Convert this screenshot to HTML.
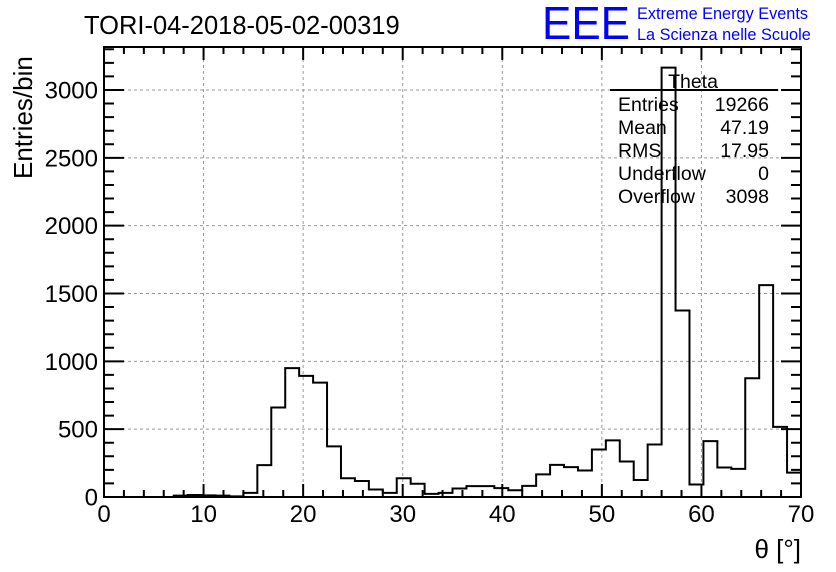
<!DOCTYPE html>
<html><head><meta charset="utf-8"><style>
body{margin:0;background:#fff;}
svg{display:block;font-family:"Liberation Sans",Arial,sans-serif;}
</style></head><body>
<svg id="c" width="836" height="572" xmlns="http://www.w3.org/2000/svg">
<rect width="836" height="572" fill="#fff"/>
<text x="84" y="34" font-size="25.5">TORI-04-2018-05-02-00319</text>
<text x="542" y="39" font-size="46" fill="#0000ff" textLength="88" lengthAdjust="spacingAndGlyphs">EEE</text>
<text x="637" y="19" font-size="16.3" fill="#0000ff">Extreme Energy Events</text>
<text x="637" y="40" font-size="16.3" fill="#0000ff">La Scienza nelle Scuole</text>
<g id="grid"></g>
<g id="ticks"></g>
<g id="labels"></g>
<path id="hist" fill="none" stroke="#000" stroke-width="2"/>
<rect x="104" y="47" width="697" height="450" fill="none" stroke="#000" stroke-width="2"/>
<g font-size="19.5">
<text x="693" y="88" text-anchor="middle">Theta</text>
<line x1="610" y1="90" x2="778" y2="90" stroke="#000" stroke-width="2"/>
<text x="618" y="111">Entries</text><text x="769" y="111" text-anchor="end">19266</text>
<text x="618" y="134">Mean</text><text x="769" y="134" text-anchor="end">47.19</text>
<text x="618" y="157">RMS</text><text x="769" y="157" text-anchor="end">17.95</text>
<text x="618" y="180">Underflow</text><text x="769" y="180" text-anchor="end">0</text>
<text x="618" y="203">Overflow</text><text x="769" y="203" text-anchor="end">3098</text>
</g>
<text x="801" y="558" font-size="26" text-anchor="end">θ [°]</text>
<text transform="translate(32,179) rotate(-90)" font-size="26">Entries/bin</text>
</svg>
<script>
const binWidth = 1.4;
const counts = [0,0,0,0,0,10,15,12,10,5,30,235,660,950,893,843,373,138,118,55,30,138,98,23,30,63,80,80,65,50,82,167,237,220,195,350,417,262,125,387,3165,1375,92,412,217,207,875,1562,517,180];
const xTicks = [0,10,20,30,40,50,60,70];
const yTicks = [0,500,1000,1500,2000,2500,3000];
const X0=104,X1=801,Y0=497,YT=47;
const sx=v=>X0+(v/70)*(X1-X0);
const sy=v=>Y0-v*0.13567;
const NS="http://www.w3.org/2000/svg";
function mk(tag,attrs,parent){const e=document.createElementNS(NS,tag);for(const k in attrs)e.setAttribute(k,attrs[k]);parent.appendChild(e);return e;}
const grid=document.getElementById('grid'),ticks=document.getElementById('ticks'),labels=document.getElementById('labels');
xTicks.forEach(v=>{
  if(v>0&&v<70){const g=mk('line',{x1:sx(v),x2:sx(v),y1:YT,y2:Y0,stroke:'#999','stroke-dasharray':'3,3'},grid);
  
  }
  const t=mk('text',{x:sx(v),y:522,'font-size':24,'text-anchor':'middle'},labels);t.textContent=v;
  
  
});
yTicks.forEach(v=>{
  if(v>0){const g=mk('line',{x1:X0,x2:X1,y1:sy(v),y2:sy(v),stroke:'#999','stroke-dasharray':'3,3'},grid);
  
  }
  const t=mk('text',{x:98,y:sy(v)+8.5,'font-size':24,'text-anchor':'end'},labels);t.textContent=v;
  
  
});
let d='';
for(let v=0;v<=70;v+=2){const L=(v%10===0)?13:7;d+=`M${sx(v)},${Y0}v${-L}M${sx(v)},${YT}v${L}`;}
for(let v=0;v<=3300;v+=100){const L=(v%500===0)?20:10;d+=`M${X0},${sy(v)}h${L}M${X1},${sy(v)}h${-L}`;}
mk('path',{d:d,stroke:'#000','stroke-width':2,fill:'none'},ticks);
let p=`M${sx(0)},${sy(0)}`;
counts.forEach((c,i)=>{p+=`L${sx(i*binWidth)},${sy(c)}L${sx((i+1)*binWidth)},${sy(c)}`;});
document.getElementById('hist').setAttribute('d',p);
</script>
</body></html>
